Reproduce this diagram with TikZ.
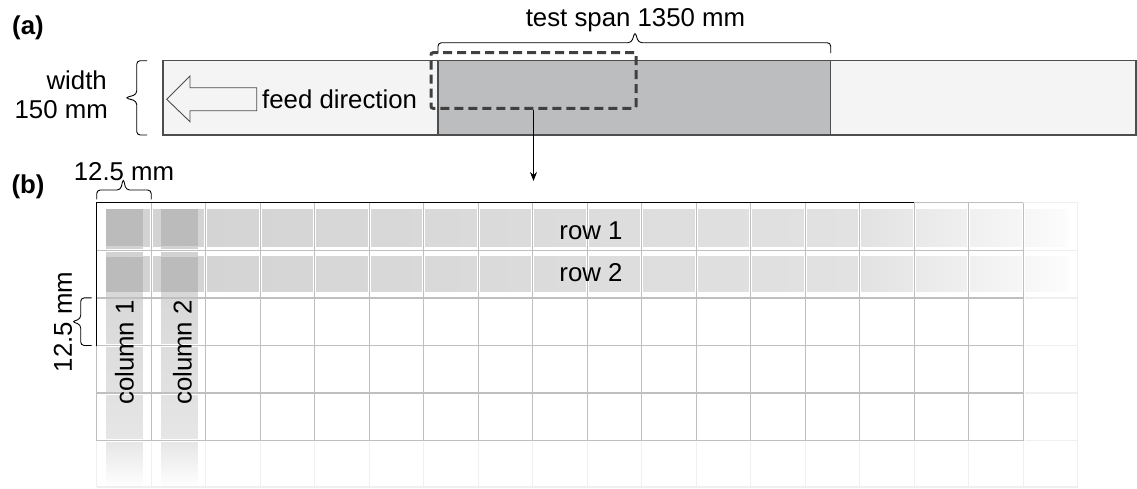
\documentclass[tikz,border=0pt]{standalone}
\usepackage{fontspec}
\setmainfont{Liberation Sans}
\usetikzlibrary{arrows.meta}
\definecolor{stripfill}{HTML}{F3F4F3}
\definecolor{spanfill}{HTML}{BCBDBF}
\definecolor{outline}{HTML}{4D4D4D}
\definecolor{dashcol}{HTML}{404040}
\definecolor{gridcol}{HTML}{BFBFBF}
\definecolor{faintcol}{HTML}{EFEFEF}
\definecolor{bandA}{HTML}{D2D2D2}
\definecolor{bandB}{HTML}{E2E2E2}
\definecolor{bandC}{HTML}{FCFCFC}
\definecolor{overlap}{HTML}{BBBBBB}
\definecolor{colA}{HTML}{D8D8D8}
\definecolor{colB}{HTML}{E6E6E6}
\begin{document}
\begin{tikzpicture}[x=1pt,y=-1pt,
  every node/.style={font=\fontsize{25.8}{30}\selectfont, inner sep=0pt, text=black},
  lbl/.style={font=\fontsize{25.8}{30}\selectfont\bfseries},
  bracestyle/.style={draw=black, line width=0.9pt, rounded corners=3.5pt},
  gridhalo/.style={draw=white, line width=2.8pt},
  gridline/.style={draw=gridcol, line width=1.3pt},
  faint/.style={draw=faintcol, line width=1.3pt},
  selbox/.style={draw=dashcol, line width=3pt, dash pattern=on 9pt off 5pt, rounded corners=2pt, minimum width=205pt, minimum height=55.6pt}
]
\useasboundingbox (0,0) rectangle (1137,488);

% ---------- (a) ----------
\node[lbl] (la) at (28,28) {(a)};
\fill[stripfill] (163,60.7) rectangle (1136,135);
\fill[spanfill] (438,60.7) rectangle (830.7,135);
\draw[outline, line width=1.2pt] (163,60.7) rectangle (1136,135);
\draw[outline, line width=1.2pt] (438,60.7) -- (438,135) (830.7,60.7) -- (830.7,135);

% feed arrow
\draw[outline, line width=0.9pt] (166.7,99.3) -- (190,76) -- (190,87.7) -- (256.7,87.7) -- (256.7,110.7) -- (190,110.7) -- (190,121.7) -- cycle;
\node[anchor=west] (feed) at (262,99) {feed direction};

% width brace
\draw[bracestyle] (147,60.7) -- (136.7,60.7) -- (136.7,94.5) -- (125,97.8) -- (136.7,101.1) -- (136.7,135) -- (147,135);
\node[anchor=east] (w1) at (107,80) {width};
\node[anchor=east] (w2) at (108,110) {150 mm};

% test span brace
\draw[bracestyle] (438,53) -- (438,42.7) -- (631.5,42.7) -- (635,31.7) -- (638.5,42.7) -- (830.7,42.7) -- (830.7,53);
\node (span) at (635.5,20) {test span 1350 mm};

% dashed selection
\node[selbox] (sel) at (533.5,80.5) {};
\coordinate (arrowend) at (533.5,181);
\draw[black, line width=0.9pt, -{Stealth[length=9pt,width=7pt]}] (sel.south) -- (arrowend);

% ---------- (b) ----------
\node[lbl] (lb) at (28,187) {(b)};

% column bands
\foreach \cx in {106,161}{
  \fill[bandA] (\cx,209.3) rectangle ({\cx+36.5},292);
  \shade[top color=colA, bottom color=colB] (\cx,292) rectangle ({\cx+36.5},440.7);
  \shade[top color=colB, bottom color=white] (\cx,440.7) rectangle ({\cx+36.5},488);
}
% row bands
\foreach \ry/\rh in {209.3/36.7, 256.7/35}{
  \shade[left color=bandA, right color=bandB] (106,\ry) rectangle (860,{\ry+\rh});
  \shade[left color=bandB, right color=bandC] (860,\ry) rectangle (1068,{\ry+\rh});
  \foreach \cx in {106,161}{
    \fill[overlap] (\cx,\ry) rectangle ({\cx+36.5},{\ry+\rh});
  }
}

% faint extension of grid
\foreach \i in {0,...,18}{
  \draw[faint] ({96.7+\i*54.5},440.7) -- ({96.7+\i*54.5},487);
}
\draw[faint] (1077.7,202.7) -- (1077.7,487);
\foreach \j in {0,...,5}{
  \draw[faint] (1023.2,{202.7+\j*47.6}) -- (1077.7,{202.7+\j*47.6});
}
\draw[faint] (96.7,487) -- (1077.7,487);

% grid
\foreach \i in {0,...,17}{
  \draw[gridhalo] ({96.7+\i*54.5},202.7) -- ({96.7+\i*54.5},440.7);
}
\foreach \j in {0,...,5}{
  \draw[gridhalo] (96.7,{202.7+\j*47.6}) -- (1023.2,{202.7+\j*47.6});
}
\foreach \i in {0,...,17}{
  \draw[gridline] ({96.7+\i*54.5},202.7) -- ({96.7+\i*54.5},440.7);
}
\foreach \j in {0,...,5}{
  \draw[gridline] (96.7,{202.7+\j*47.6}) -- (1023.2,{202.7+\j*47.6});
}
\draw[black, line width=1.5pt] (914,202.7) -- (96.7,202.7) -- (96.7,345.5);

% labels in grid
\node (row1) at (591,231) {row 1};
\node (row2) at (591,273) {row 2};
\node[rotate=90] (col1) at (124.5,352.5) {column 1};
\node[rotate=90] (col2) at (182.5,352.5) {column 2};

% 12.5 mm braces
\draw[bracestyle] (96.7,199.3) -- (96.7,190) -- (120.5,190) -- (123.3,178.5) -- (126.1,190) -- (151.2,190) -- (151.2,199.3);
\node (topdim) at (124,172) {12.5 mm};
\draw[bracestyle] (91.7,297.9) -- (80.7,297.9) -- (80.7,318.9) -- (71.7,321.7) -- (80.7,324.5) -- (80.7,345.5) -- (91.7,345.5);
\node[rotate=90] (leftdim) at (63,322) {12.5 mm};
\end{tikzpicture}
\end{document}
